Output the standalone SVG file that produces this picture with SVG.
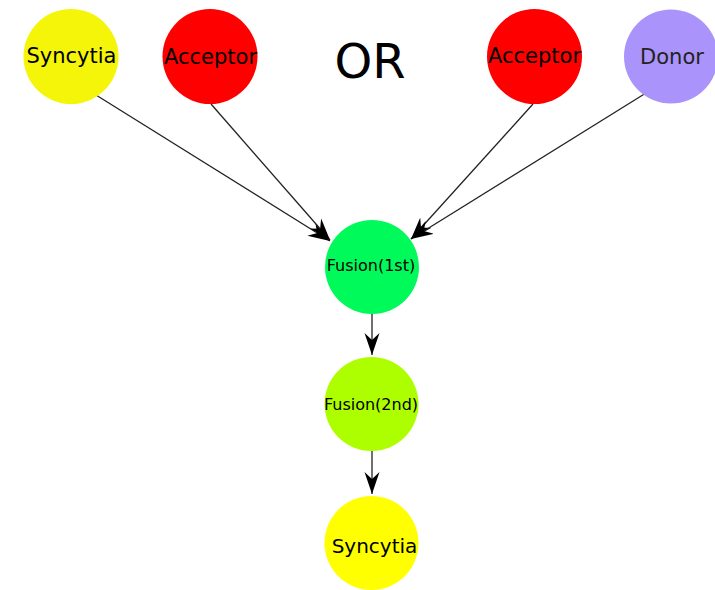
<svg xmlns="http://www.w3.org/2000/svg" width="715" height="590" viewBox="0 0 715 590">
<style>
.n{stroke:none}
.t{font-family:"DejaVu Sans",sans-serif;fill:#000;text-anchor:middle}
.big{font-size:21px}
.sm{font-size:16px}
.e{stroke:#222;stroke-width:1.3;fill:none;marker-end:url(#ah)}
</style>
<defs>
<marker id="ah" markerUnits="userSpaceOnUse" markerWidth="24" markerHeight="16" refX="22" refY="7.5" orient="auto" viewBox="0 0 24 15">
<path d="M22,7.5 L0,0 L7,7.5 L0,15 Z" fill="#000"/>
</marker>
</defs>
<rect width="715" height="590" fill="#fff"/>
<g id="connectors">
<line class="e" x1="96" y1="95" x2="330" y2="241"/>
<line class="e" x1="211" y1="104" x2="330" y2="240"/>
<line class="e" x1="533" y1="104" x2="411" y2="239"/>
<line class="e" x1="646" y1="93" x2="411" y2="239"/>
<line class="e" x1="372" y1="313" x2="372" y2="355"/>
<line class="e" x1="372" y1="451" x2="372" y2="494"/>
</g>
<g id="syncytia-top"><circle class="n" cx="71" cy="56.5" r="47.5" fill="#f5f50a"/><text class="t big" x="71.5" y="63">Syncytia</text></g>
<g id="acceptor-1"><circle class="n" cx="210" cy="56.5" r="47.5" fill="#ff0000"/><text class="t big" x="210.5" y="64">Acceptor</text></g>
<text id="or" class="t" x="370" y="78" font-size="48">OR</text>
<g id="acceptor-2"><circle class="n" cx="534.5" cy="56.5" r="47.5" fill="#ff0000"/><text class="t big" x="534.5" y="63">Acceptor</text></g>
<g id="donor"><circle class="n" cx="671" cy="56.5" r="47" fill="#aa94fb"/><text class="t big" x="672" y="64" style="fill:#222">Donor</text></g>
<g id="fusion-1st"><circle class="n" cx="372" cy="267" r="47" fill="#00fa5a"/><text class="t sm" x="371" y="271">Fusion(1st)</text></g>
<g id="fusion-2nd"><circle class="n" cx="371.5" cy="404" r="47" fill="#adff00"/><text class="t sm" x="371" y="410">Fusion(2nd)</text></g>
<g id="syncytia-bottom"><circle class="n" cx="371.5" cy="543" r="47" fill="#ffff00"/><text class="t" x="374.5" y="553" font-size="20">Syncytia</text></g>
</svg>
